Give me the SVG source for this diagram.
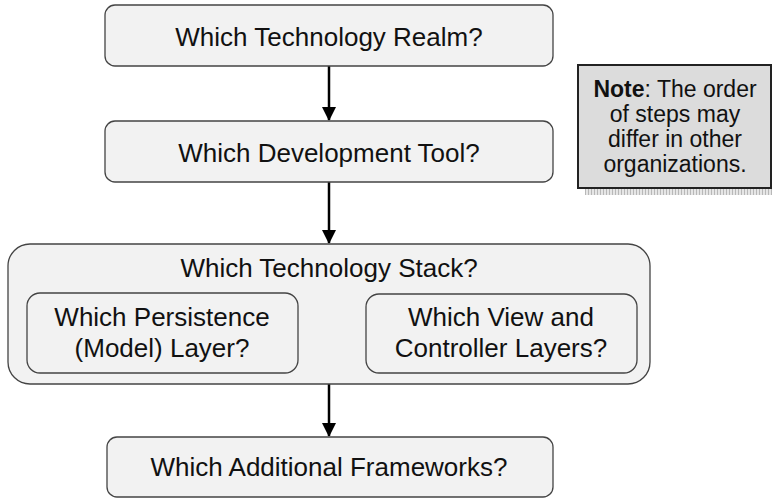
<svg xmlns="http://www.w3.org/2000/svg" width="772" height="499" viewBox="0 0 772 499">
<style>
.box{fill:#f2f2f2;stroke:#444;stroke-width:1.3}
.t{font-family:"Liberation Sans",Arial,sans-serif;font-size:26px;fill:#111;text-anchor:middle}
.n{font-family:"Liberation Sans",Arial,sans-serif;font-size:23px;fill:#111;text-anchor:middle}
.c{stroke:#000;stroke-width:2.5;fill:none}
</style>
<defs>
<marker id="ah2" markerWidth="14" markerHeight="14" refX="13" refY="7" orient="auto" markerUnits="userSpaceOnUse">
<path d="M0,0 L14,7 L0,14 Z" fill="#000"/>
</marker>
<pattern id="hatch" width="3" height="8" patternUnits="userSpaceOnUse">
<rect width="3" height="8" fill="#e6e6e6"/>
<rect width="1" height="8" fill="#b8b8b8"/>
</pattern>
</defs>
<g id="connectors">
<line class="c" x1="329" y1="66" x2="329" y2="120" marker-end="url(#ah2)"/>
<line class="c" x1="329" y1="182" x2="329" y2="243" marker-end="url(#ah2)"/>
<line class="c" x1="329" y1="384" x2="329" y2="436" marker-end="url(#ah2)"/>
</g>
<g id="realm">
<rect class="box" x="105" y="5" width="448" height="61" rx="10"/>
<text class="t" x="329" y="46">Which Technology Realm?</text>
</g>
<g id="devtool">
<rect class="box" x="105" y="121" width="448" height="61" rx="10"/>
<text class="t" x="329" y="162">Which Development Tool?</text>
</g>
<g id="stack">
<rect class="box" x="8" y="244" width="642" height="140" rx="22"/>
<text class="t" x="329" y="277">Which Technology Stack?</text>
</g>
<g id="persistence">
<rect class="box" x="27" y="293" width="271" height="80" rx="13"/>
<text class="t" x="162" y="326">Which Persistence</text>
<text class="t" x="162" y="357">(Model) Layer?</text>
</g>
<g id="viewctrl">
<rect class="box" x="366" y="294" width="271" height="79" rx="13"/>
<text class="t" x="501" y="326">Which View and</text>
<text class="t" x="501" y="357">Controller Layers?</text>
</g>
<g id="frameworks">
<rect class="box" x="107" y="437" width="446" height="60" rx="10"/>
<text class="t" x="329" y="476">Which Additional Frameworks?</text>
</g>
<g id="note">
<rect x="585" y="188" width="187" height="7" fill="url(#hatch)"/>
<rect x="578" y="65" width="193" height="123" fill="#dcdcdc" stroke="#222" stroke-width="2"/>
<text class="n" x="675" y="97"><tspan font-weight="bold">Note</tspan>: The order</text>
<text class="n" x="675" y="122">of steps may</text>
<text class="n" x="675" y="147">differ in other</text>
<text class="n" x="675" y="172">organizations.</text>
</g>
</svg>
